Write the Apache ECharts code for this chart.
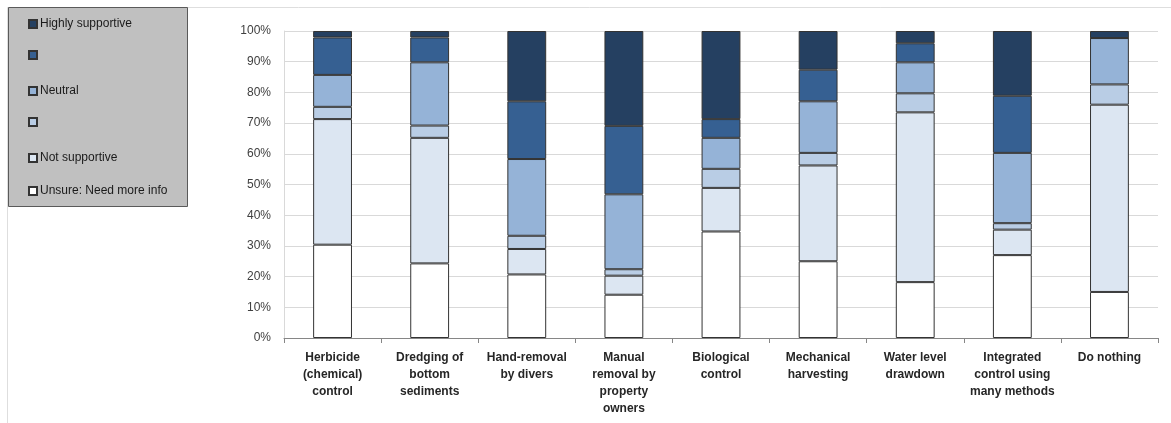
<!DOCTYPE html>
<html>
<head>
<meta charset="utf-8">
<script src="https://cdn.jsdelivr.net/npm/echarts@6/dist/echarts.min.js"></script>
<style>
html,body{margin:0;padding:0;background:#fff;}
#chart{width:1171px;height:423px;}
</style>
</head>
<body>
<div id="chart"></div>
<script>
const categories = [
  "Herbicide\n(chemical)\ncontrol",
  "Dredging of\nbottom\nsediments",
  "Hand-removal\nby divers",
  "Manual\nremoval by\nproperty\nowners",
  "Biological\ncontrol",
  "Mechanical\nharvesting",
  "Water level\ndrawdown",
  "Integrated\ncontrol using\nmany methods",
  "Do nothing"
];
const seriesNames = ["Unsure: Need more info", "Not supportive", "s3", "Neutral", "s5", "Highly supportive"];
const legendLabels = ["Unsure: Need more info", "Not supportive", "", "Neutral", "", "Highly supportive"];
const unsure      = [30.4, 24.3, 20.7, 14.1, 34.7, 25.0, 18.2, 27.0, 15.0];
const notSupp     = [40.9, 40.9,  8.3,  6.2, 14.2, 31.2, 55.3,  8.3, 61.0];
const level2      = [ 4.0,  4.0,  4.3,  2.1,  6.2,  4.1,  6.2,  2.1,  6.6];
const neutral     = [10.4, 20.6, 25.0, 24.4, 10.1, 16.8, 10.1, 22.9, 15.1];
const level4      = [12.2,  8.1, 18.8, 22.3,  6.1, 10.3,  6.2, 18.6,  0.0];
const highly      = [ 2.1,  2.1, 22.9, 30.9, 28.7, 12.6,  4.0, 21.1,  2.3];
const yTicks = [0, 10, 20, 30, 40, 50, 60, 70, 80, 90, 100];

const seriesData = [unsure, notSupp, level2, neutral, level4, highly];
const colors = ["#ffffff", "#dce6f2", "#b9cde5", "#95b3d7", "#366092", "#254061"];
const FONT = "Liberation Sans, Arial, sans-serif";

const chart = echarts.init(document.getElementById('chart'), null, {renderer: 'canvas'});

const legendCenters = [191, 158, 124, 91, 57, 24];
const legends = seriesNames.map((n, i) => ({
  show: true,
  orient: 'vertical',
  left: 28,
  top: legendCenters[i] - 7,
  itemWidth: 8,
  itemHeight: 8,
  itemGap: 0,
  padding: 0,
  icon: 'rect',
  selectedMode: false,
  data: [n],
  formatter: () => legendLabels[i],
  textStyle: {fontFamily: FONT, fontSize: 12, color: '#1a1a1a', lineHeight: 14, padding: [0, 0, 0, -2]}
}));

const option = {
  backgroundColor: '#ffffff',
  animation: false,
  graphic: [
    {type: 'rect', z: -10, shape: {x: 7.5, y: 7.5, width: 1300, height: 600}, style: {fill: 'none', stroke: '#dedede', lineWidth: 1}},
    {type: 'rect', z: -5, shape: {x: 8.5, y: 7.5, width: 179, height: 199}, style: {fill: '#c0c0c0', stroke: '#5a5a5a', lineWidth: 1}}
  ],
  legend: legends,
  grid: {left: 284, right: 13, top: 31, bottom: 85, containLabel: false},
  xAxis: {
    type: 'category',
    data: categories,
    axisLine: {lineStyle: {color: '#868686', width: 1}},
    axisTick: {show: true, length: 5, lineStyle: {color: '#868686'}},
    axisLabel: {interval: 0, margin: 11, fontFamily: FONT, fontSize: 12, fontWeight: 'bold', color: '#262626', lineHeight: 17, align: 'center'}
  },
  yAxis: {
    type: 'value',
    min: yTicks[0],
    max: yTicks[yTicks.length - 1],
    interval: yTicks[1] - yTicks[0],
    axisLine: {show: true, lineStyle: {color: '#d9d9d9'}},
    axisTick: {show: false},
    splitLine: {lineStyle: {color: '#d9d9d9', width: 1}},
    axisLabel: {formatter: '{value}%', margin: 13, fontFamily: FONT, fontSize: 12, color: '#404040'}
  },
  series: seriesNames.map((n, i) => ({
    name: n,
    type: 'bar',
    stack: 'total',
    barWidth: '40%',
    data: seriesData[i],
    itemStyle: {color: colors[i], borderColor: '#333333', borderWidth: 1},
    emphasis: {disabled: true}
  }))
};
chart.setOption(option);
</script>
</body>
</html>
